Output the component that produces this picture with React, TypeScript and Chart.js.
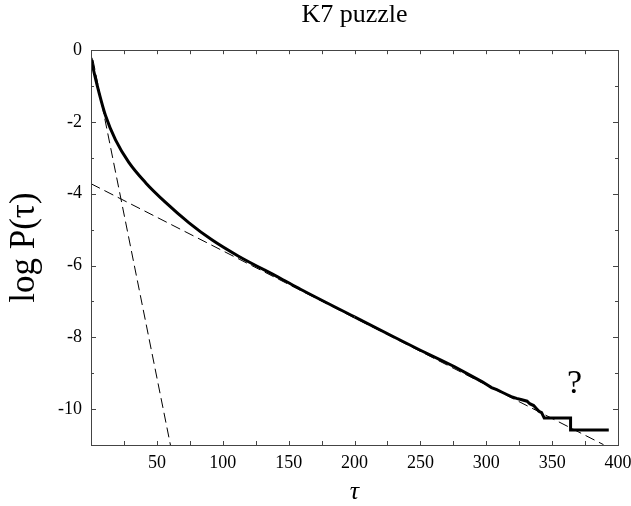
import { useEffect, useRef } from 'react';
import { Chart, registerables } from 'chart.js';

Chart.register(...registerables);

// ---- text ----
const TITLE = 'K7 puzzle';
const X_TITLE = 'τ';
const Y_TITLE = 'log P(τ)';

// ---- axes ----
const X_MIN = 0;
const X_MAX = 400;
const X_STEP = 25;
const X_LABEL_EVERY = 50;
const Y_MIN = -11;
const Y_MAX = 0;
const Y_STEP = 1;
const Y_LABEL_EVERY = 2;

// ---- measured distribution (smooth head) ----
const headTau = [0, 2.5, 5.9, 11, 18.6, 28.7, 41.4, 56.6, 74.4, 92, 112, 144, 159, 200];
const headLogP = [-0.22, -0.645, -1.155, -1.82, -2.5, -3.125, -3.69, -4.24, -4.81, -5.29, -5.74, -6.36, -6.66, -7.43];

// ---- measured distribution (noisy tail) ----
const tailTau = [200, 230, 250, 266, 276, 289, 297, 300, 304, 308, 312, 316, 319, 323, 327, 331, 333, 336, 338, 340, 342, 344, 364, 364, 393];
const tailLogP = [-7.43, -7.99, -8.36, -8.64, -8.82, -9.08, -9.24, -9.31, -9.4, -9.46, -9.53, -9.6, -9.65, -9.7, -9.74, -9.78, -9.85, -9.9, -9.98, -10.06, -10.1, -10.25, -10.25, -10.58, -10.58];

// ---- fitted exponentials (dashed) ----
const fastFitTau = [1.5, 60.3];
const fastFitLogP = [-0.27, -11];
const slowFitTau = [0, 389];
const slowFitLogP = [-3.72, -10.99];

// ---- annotation ----
const NOTE_TEXT = '?';
const NOTE_TAU = 367;
const NOTE_LOGP = -9.3;

const SERIF = '"Liberation Serif", "Times New Roman", serif';

const zip = (xs: number[], ys: number[]) => xs.map((x, i) => ({ x, y: ys[i] }));

const framePlugin = {
  id: 'frameTicks',
  afterDatasetsDraw(chart: any) {
    const { ctx, chartArea } = chart;
    const { left, right, top, bottom } = chartArea;
    const xs = chart.scales.x;
    const ys = chart.scales.y;
    ctx.save();
    ctx.strokeStyle = '#444';
    ctx.lineWidth = 1;
    ctx.strokeRect(Math.round(left) + 0.5, Math.round(top) + 0.5, Math.round(right - left), Math.round(bottom - top));
    ctx.beginPath();
    xs.ticks.forEach((t: any) => {
      const px = Math.round(xs.getPixelForValue(t.value)) + 0.5;
      const len = 4;
      ctx.moveTo(px, bottom);
      ctx.lineTo(px, bottom - len);
      ctx.moveTo(px, top);
      ctx.lineTo(px, top + len);
    });
    ys.ticks.forEach((t: any) => {
      const py = Math.round(ys.getPixelForValue(t.value)) + 0.5;
      const len = t.value % Y_LABEL_EVERY === 0 ? 5 : 3;
      ctx.moveTo(left, py);
      ctx.lineTo(left + len, py);
      ctx.moveTo(right, py);
      ctx.lineTo(right - len, py);
    });
    ctx.stroke();

    ctx.fillStyle = '#000';
    ctx.font = `34px ${SERIF}`;
    ctx.textAlign = 'center';
    ctx.textBaseline = 'middle';
    ctx.fillText(NOTE_TEXT, xs.getPixelForValue(NOTE_TAU), ys.getPixelForValue(NOTE_LOGP));
    ctx.restore();
  },
};

export default function App() {
  const ref = useRef<HTMLCanvasElement>(null);

  useEffect(() => {
    if (!ref.current) return;
    const chart = new Chart(ref.current, {
      type: 'line',
      data: {
        datasets: [
          {
            data: zip(headTau, headLogP),
            borderColor: '#000',
            borderWidth: 3,
            pointRadius: 0,
            cubicInterpolationMode: 'monotone',
            fill: false,
          },
          {
            data: zip(tailTau, tailLogP),
            borderColor: '#000',
            borderWidth: 3,
            pointRadius: 0,
            tension: 0,
            fill: false,
          },
          {
            data: zip(fastFitTau, fastFitLogP),
            borderColor: '#000',
            borderWidth: 1,
            borderDash: [10, 5],
            pointRadius: 0,
            fill: false,
          },
          {
            data: zip(slowFitTau, slowFitLogP),
            borderColor: '#000',
            borderWidth: 1,
            borderDash: [10, 5],
            pointRadius: 0,
            fill: false,
          },
        ],
      },
      options: {
        responsive: false,
        animation: false,
        layout: { padding: { top: 0, right: 13, bottom: 0, left: 0 } },
        plugins: {
          legend: { display: false },
          tooltip: { enabled: false },
          title: {
            display: true,
            text: TITLE,
            fullSize: false,
            color: '#000',
            font: { family: SERIF, size: 26, weight: 'normal' },
            padding: { top: 0, bottom: 19 },
          },
        },
        scales: {
          x: {
            type: 'linear',
            min: X_MIN,
            max: X_MAX,
            grid: { display: false, drawTicks: false },
            border: { display: false },
            ticks: {
              stepSize: X_STEP,
              autoSkip: false,
              maxRotation: 0,
              padding: 7,
              color: '#000',
              font: { family: SERIF, size: 18 },
              callback: (v: any) => (v !== 0 && v % X_LABEL_EVERY === 0 ? String(v) : ''),
            },
            title: {
              display: true,
              text: X_TITLE,
              color: '#000',
              font: { family: SERIF, size: 26, style: 'italic', lineHeight: 1 },
              padding: { top: 0, bottom: 1 },
            },
            afterFit: (s: any) => {
              s.height = 61;
              s.paddingLeft = 0;
              s.paddingRight = 0;
            },
          },
          y: {
            type: 'linear',
            min: Y_MIN,
            max: Y_MAX,
            grid: { display: false, drawTicks: false },
            border: { display: false },
            ticks: {
              stepSize: Y_STEP,
              autoSkip: false,
              padding: 9,
              color: '#000',
              font: { family: SERIF, size: 18 },
              callback: (v: any) => (v % Y_LABEL_EVERY === 0 ? String(v) : ''),
            },
            title: {
              display: true,
              text: Y_TITLE,
              color: '#000',
              font: { family: SERIF, size: 35, lineHeight: 1 },
              padding: { top: 7, bottom: 0 },
            },
            afterFit: (s: any) => {
              s.width = 91;
              s.paddingTop = 0;
              s.paddingBottom = 0;
            },
          },
        },
      },
      plugins: [framePlugin],
    } as any);
    return () => chart.destroy();
  }, []);

  return (
    <div style={{ position: 'absolute', left: 0, top: 0, width: 631, height: 506, background: '#fff' }}>
      <canvas ref={ref} width={631} height={506} style={{ width: 631, height: 506, display: 'block' }} />
    </div>
  );
}
